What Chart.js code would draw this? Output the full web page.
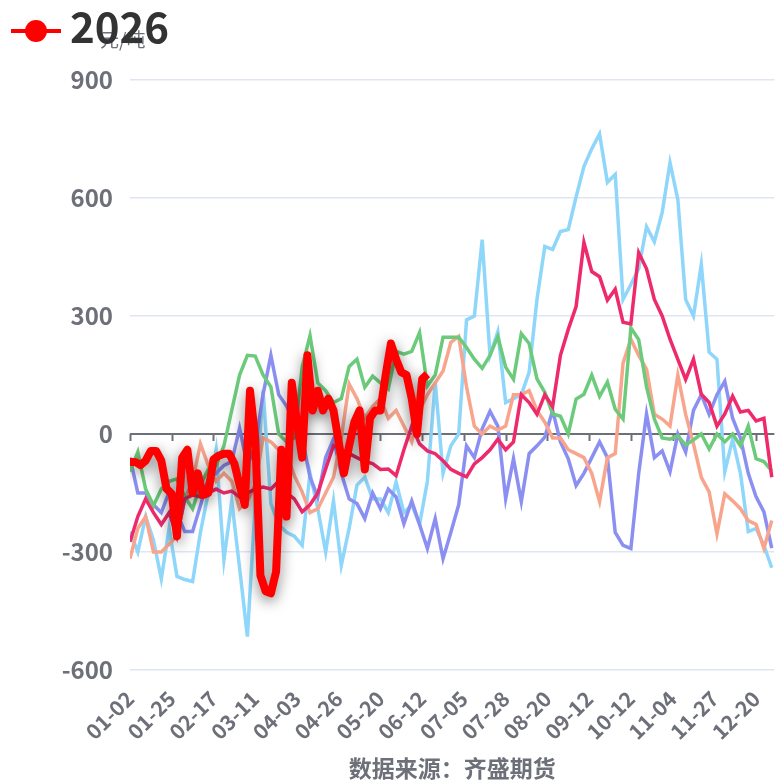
<!DOCTYPE html>
<html>
<head>
<meta charset="utf-8">
<script src="https://cdn.jsdelivr.net/npm/chart.js@4.4.1/dist/chart.umd.min.js"></script>
<style>
  body { margin: 0; background: #fff; }
  #wrap { width: 782px; height: 784px; }
</style>
</head>
<body>
<div id="wrap"><canvas id="chart" width="782" height="784"></canvas></div>
<script>
// tick labels along the bottom, one every 16 trading days
const tickLabels = ['01-02','01-25','02-17','03-11','04-03','04-26','05-20','06-12',
                    '07-05','07-28','08-20','09-12','10-12','11-04','11-27','12-20'];
const LABEL_EVERY = 16;
const LAST_DAY = 247;

// past years sampled every 3 trading days, current year every 2
const STEP = 3;
const STEP_2026 = 2;

const s2021 = [-248,-300,-210,-270,-368,-240,-362,-370,-375,-250,
               -150,-40,-320,-170,-340,-515,-180,110,-177,-230,
               -250,-260,-283,-100,-190,-300,-170,-334,-240,-130,
               -110,-165,-165,-200,-122,-200,-180,-230,-120,132,
               -100,-30,0,290,300,494,200,260,80,90,
               100,157,342,477,469,515,520,603,680,725,
               763,640,660,342,380,420,527,489,563,690,
               596,342,300,431,208,190,-96,-13,-100,-248,
               -240,-283,-340];
const s2022 = [-60,-150,-150,-180,-200,-147,-200,-248,-248,-182,
               -114,-100,-80,-70,15,-80,-30,100,200,100,
               71,30,-10,-110,-160,-60,-13,-100,-165,-177,
               -215,-150,-190,-140,-160,-228,-170,-230,-291,-215,
               -317,-250,-180,-30,-60,13,58,20,-165,-63,
               -172,-50,-30,-8,60,-20,-63,-131,-100,-60,
               -20,-60,-250,-283,-291,-100,51,-60,-43,-96,
               0,-46,60,100,50,100,134,40,-10,-100,
               -160,-198,-290];
const s2023 = [-317,-240,-210,-300,-300,-280,-260,-165,-120,-25,
               -80,-120,-100,-120,-190,-170,-130,-10,-20,-40,
               -50,-106,-147,-200,-190,-150,-110,-10,127,90,
               40,70,90,40,60,20,-20,60,100,130,
               160,233,248,120,20,0,20,10,20,100,
               100,110,60,30,-10,-10,-40,-50,-60,-100,
               -172,-60,-50,180,241,200,165,50,38,20,
               150,50,-25,-110,-147,-254,-152,-170,-190,-220,
               -230,-291,-220];
const s2024 = [-96,-46,-140,-182,-140,-120,-114,-160,-190,-130,
               -90,-80,-30,60,150,200,198,150,120,0,
               -20,-10,170,250,130,110,80,90,172,190,
               119,147,130,114,210,203,210,258,122,150,
               246,246,246,220,190,167,200,248,170,139,
               255,230,140,106,51,45,0,89,101,150,
               96,132,63,38,270,240,120,38,-10,-13,
               -5,-28,-15,0,-38,0,-20,0,-30,20,
               -63,-70,-94];
const s2025 = [-274,-210,-165,-200,-230,-200,-260,-165,-155,-160,
               -150,-140,-150,-145,-160,-150,-140,-135,-140,-120,
               -150,-165,-198,-180,-150,-89,-30,-40,-50,-60,
               -70,-75,-90,-89,-106,-40,20,-25,-43,-50,
               -68,-90,-100,-109,-76,-60,-40,-13,-40,-20,
               100,80,50,100,70,200,266,324,487,413,
               400,340,368,284,280,461,420,342,300,241,
               190,139,190,101,80,20,51,96,56,60,
               33,40,-110];
const s2026 = [-71,-71,-79,-68,-43,-43,-68,-139,-152,-260,
               -60,-40,-150,-100,-155,-150,-65,-55,-50,-50,
               -75,-130,-180,110,-10,-360,-400,-405,-350,-40,
               -210,130,30,-60,200,60,110,60,90,60,
               -20,-100,-30,30,60,-90,40,60,60,150,
               230,190,157,150,90,0,140,152];

const yTicks = { min: -600, max: 900, step: 300 };
const unitLabel = '元/吨';
const sourceLabel = '数据来源：齐盛期货';

const GREY = '#6e7079';
const FONT = "'Noto Sans CJK SC', 'Noto Sans', sans-serif";

function toPoints(values, step) {
    return values.map((v, i) => ({ x: i * step, y: v }));
}

// shadow under the 2026 line
const shadowPlugin = {
    id: 'shadow',
    beforeDatasetDraw(chart, args) {
        if (chart.data.datasets[args.index].label !== '2026') return;
        const ctx = chart.ctx;
        ctx.save();
        ctx.shadowColor = 'rgba(0,0,0,0.5)';
        ctx.shadowBlur = 14;
        ctx.shadowOffsetY = 4;
    },
    afterDatasetDraw(chart, args) {
        if (chart.data.datasets[args.index].label !== '2026') return;
        chart.ctx.restore();
    }
};

// little tick marks hanging off the zero line
const zeroTicks = {
    id: 'zeroTicks',
    beforeDatasetsDraw(chart) {
        const ctx = chart.ctx;
        const xs = chart.scales.x;
        const y0 = chart.scales.y.getPixelForValue(0);
        ctx.save();
        ctx.strokeStyle = GREY;
        ctx.lineWidth = 2;
        xs.ticks.forEach(t => {
            const px = Math.round(xs.getPixelForValue(t.value)) + 0.5;
            ctx.beginPath();
            ctx.moveTo(px, y0);
            ctx.lineTo(px, y0 + 7);
            ctx.stroke();
        });
        ctx.restore();
    }
};

// unit, legend and source text
const decorations = {
    id: 'decorations',
    afterDraw(chart) {
        const ctx = chart.ctx;
        const area = chart.chartArea;
        ctx.save();
        ctx.fillStyle = GREY;
        ctx.font = '19px ' + FONT;
        ctx.textAlign = 'left';
        ctx.textBaseline = 'middle';
        ctx.fillText(unitLabel, 100, 40);

        // legend entry for 2026 only
        ctx.strokeStyle = '#ff0000';
        ctx.lineWidth = 4;
        ctx.beginPath();
        ctx.moveTo(11, 31);
        ctx.lineTo(61, 31);
        ctx.stroke();
        ctx.fillStyle = '#ff0000';
        ctx.beginPath();
        ctx.arc(36, 31, 11, 0, Math.PI * 2);
        ctx.fill();
        ctx.fillStyle = '#333';
        ctx.font = 'bold 42px ' + FONT;
        ctx.fillText('2026', 70, 27);

        ctx.fillStyle = GREY;
        ctx.font = 'bold 23px ' + FONT;
        ctx.textAlign = 'center';
        ctx.fillText(sourceLabel, (area.left + area.right) / 2, 768);
        ctx.restore();
    }
};

const ctx = document.getElementById('chart');
new Chart(ctx, {
    type: 'line',
    data: {
        datasets: [{
            label: '2026',
            data: toPoints(s2026, STEP_2026),
            borderColor: '#ff0000',
            borderWidth: 8,
            borderJoinStyle: 'round',
        },{
            label: '2025',
            data: toPoints(s2025, STEP),
            borderColor: '#ee2a6b',
            borderWidth: 3.5,
        },{
            label: '2024',
            data: toPoints(s2024, STEP),
            borderColor: '#6cca7b',
            borderWidth: 3.5,
        },{
            label: '2023',
            data: toPoints(s2023, STEP),
            borderColor: '#f9a58e',
            borderWidth: 3.5,
        },{
            label: '2022',
            data: toPoints(s2022, STEP),
            borderColor: '#8b8ff2',
            borderWidth: 3.5,
        },{
            label: '2021',
            data: toPoints(s2021, STEP),
            borderColor: '#8ed7fa',
            borderWidth: 3.5,
        }]
    },
    options: {
        responsive: false,
        animation: false,
        devicePixelRatio: 1,
        elements: {
            point: { radius: 0 },
            line: { tension: 0, fill: false }
        },
        layout: {
            padding: { top: 80, left: 0, right: 3, bottom: 40 }
        },
        plugins: {
            legend: { display: false },
            tooltip: { enabled: false }
        },
        scales: {
            x: {
                type: 'linear',
                min: 0,
                max: LAST_DAY,
                grid: { display: false },
                border: { display: false },
                afterFit: scale => { scale.height = 74; },
                ticks: {
                    stepSize: LABEL_EVERY,
                    includeBounds: false,
                    autoSkip: false,
                    minRotation: 45,
                    maxRotation: 45,
                    padding: 8,
                    color: GREY,
                    font: { family: FONT, size: 21, weight: 'bold' },
                    callback: v => tickLabels[v / LABEL_EVERY]
                }
            },
            y: {
                min: yTicks.min,
                max: yTicks.max,
                afterFit: scale => { scale.width = 130; },
                border: { display: false },
                grid: {
                    drawTicks: false,
                    color: c => c.tick.value === 0 ? GREY : '#e0e6f1',
                    lineWidth: c => c.tick.value === 0 ? 2 : 1.5
                },
                ticks: {
                    stepSize: yTicks.step,
                    padding: 17,
                    color: GREY,
                    font: { family: FONT, size: 24, weight: 'bold' }
                }
            }
        }
    },
    plugins: [shadowPlugin, zeroTicks, decorations]
});
</script>
</body>
</html>
